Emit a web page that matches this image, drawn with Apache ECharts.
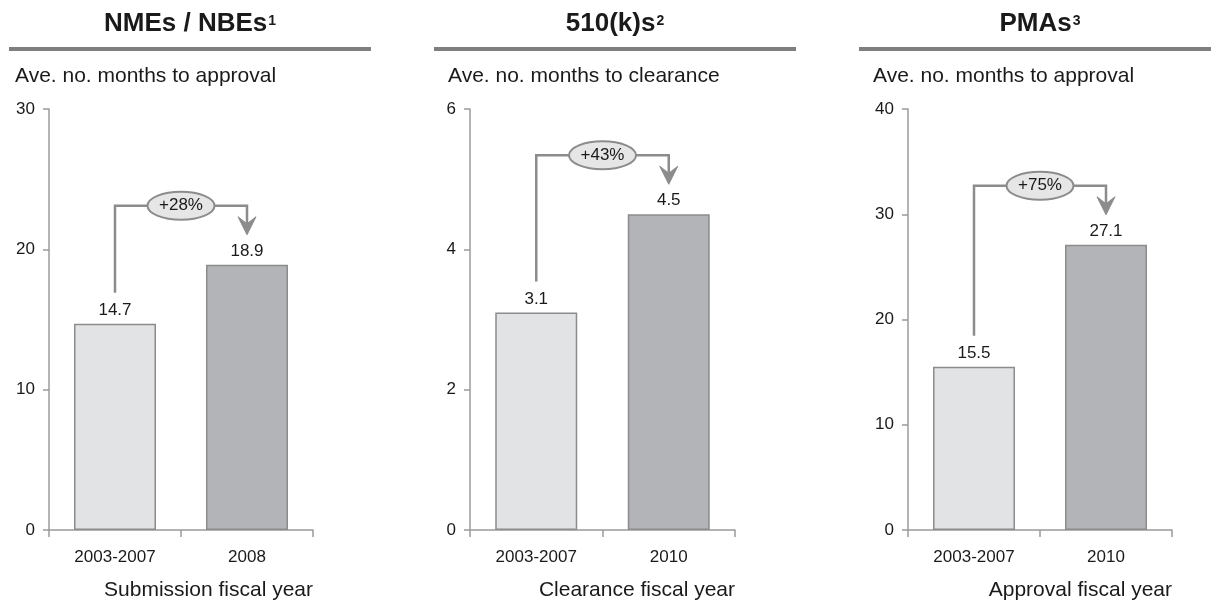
<!DOCTYPE html>
<html>
<head>
<meta charset="utf-8">
<script src="https://cdn.jsdelivr.net/npm/echarts@6/dist/echarts.min.js"></script>
<style>
  html, body { margin: 0; padding: 0; background: #fff; }
  #chart { width: 1211px; height: 601px; }
</style>
</head>
<body>
<div id="chart"></div>
<script>
// Review-time comparison: NMEs/NBEs, 510(k)s and PMAs
const panelTitles = ['NMEs / NBEs', '510(k)s', 'PMAs'];
const titleNotes = ['1', '2', '3'];
const valueTitles = ['Ave. no. months to approval', 'Ave. no. months to clearance', 'Ave. no. months to approval'];
const periodTitles = ['Submission fiscal year', 'Clearance fiscal year', 'Approval fiscal year'];

const nmeCategories = ['2003-2007', '2008'];
const k510Categories = ['2003-2007', '2010'];
const pmaCategories = ['2003-2007', '2010'];

const nmeMonths = [14.7, 18.9];
const k510Months = [3.1, 4.5];
const pmaMonths = [15.5, 27.1];

const changeLabels = ['+28%', '+43%', '+75%'];

const axisMax = [30, 6, 40];
const axisStep = [10, 2, 10];

const categoriesList = [nmeCategories, k510Categories, pmaCategories];
const valuesList = [nmeMonths, k510Months, pmaMonths];

// layout
const FONT = 'Liberation Sans, Arial, sans-serif';
const gridLeft = [49, 470, 908];
const gridWidth = [264, 265, 264];
const gridTop = 109;
const gridBottomY = 531;
const ruleX = [9, 434, 859];
const ruleW = 362;
const subtitleX = [15, 448, 873];

const AXIS = '#9b9b9b';
const LINE = '#8c8c8c';
const TEXT = '#1a1a1a';
const barFills = ['#e2e3e5', '#b3b4b7'];

const chart = echarts.init(document.getElementById('chart'), null, { renderer: 'canvas' });

const grids = [], xAxes = [], yAxes = [], series = [];
for (let i = 0; i < 3; i++) {
  grids.push({ left: gridLeft[i], top: gridTop, width: gridWidth[i], height: gridBottomY - gridTop, containLabel: false });
  xAxes.push({
    type: 'category', gridIndex: i, data: categoriesList[i],
    axisLine: { lineStyle: { color: AXIS, width: 1.5 } },
    axisTick: { show: true, length: 7, lineStyle: { color: AXIS, width: 1.5 }, alignWithLabel: false },
    axisLabel: { color: TEXT, fontSize: 17, fontFamily: FONT, margin: 19 },
    name: periodTitles[i], nameLocation: 'end', nameGap: 0,
    nameTextStyle: { color: TEXT, fontSize: 21, fontFamily: FONT, align: 'right', verticalAlign: 'top', padding: [50, 0, 0, 0] }
  });
  yAxes.push({
    type: 'value', gridIndex: i, min: 0, max: axisMax[i], interval: axisStep[i],
    axisLine: { show: true, lineStyle: { color: AXIS, width: 1.5 } },
    axisTick: { show: true, length: 6, lineStyle: { color: AXIS, width: 1.5 } },
    axisLabel: { color: TEXT, fontSize: 17, fontFamily: FONT, margin: 14 },
    splitLine: { show: false }
  });
  series.push({
    type: 'bar', xAxisIndex: i, yAxisIndex: i, barWidth: 82,
    data: valuesList[i].map((v, j) => ({
      value: v,
      itemStyle: { color: barFills[j], borderColor: LINE, borderWidth: 1.5 }
    })),
    label: { show: true, position: 'top', distance: 5, color: TEXT, fontSize: 17, fontFamily: FONT },
    animation: false
  });
}

chart.setOption({
  animation: false,
  backgroundColor: '#ffffff',
  grid: grids, xAxis: xAxes, yAxis: yAxes, series: series
});

// Panel headings, rules, value-axis captions and change connectors
const graphics = [];
for (let i = 0; i < 3; i++) {
  const cx = ruleX[i] + ruleW / 2;
  graphics.push({
    type: 'text', z: 10,
    style: {
      text: '{t|' + panelTitles[i] + '}{s|' + titleNotes[i] + '}',
      x: cx, y: 24, align: 'center', verticalAlign: 'middle',
      rich: {
        t: { fontSize: 26, fontWeight: 'bold', fontFamily: FONT, fill: TEXT, lineHeight: 30 },
        s: { fontSize: 14, fontWeight: 'bold', fontFamily: FONT, fill: TEXT, verticalAlign: 'top', lineHeight: 30, padding: [5, 0, 0, 1] }
      }
    }
  });
  graphics.push({
    type: 'rect', shape: { x: ruleX[i], y: 47, width: ruleW, height: 4 },
    style: { fill: '#7f7f7f' }
  });
  graphics.push({
    type: 'text', style: {
      text: valueTitles[i], x: subtitleX[i], y: 76, align: 'left', verticalAlign: 'middle',
      fontSize: 21, fontFamily: FONT, fill: TEXT
    }
  });

  const v = valuesList[i];
  const p0 = chart.convertToPixel({ seriesIndex: i }, [0, v[0]]);
  const p1 = chart.convertToPixel({ seriesIndex: i }, [1, v[1]]);
  const yTop = p1[1] - 59;
  const yTip = p1[1] - 30;
  const yStart = p0[1] - 31;
  const mid = (p0[0] + p1[0]) / 2;
  graphics.push({
    type: 'polyline', z: 5,
    shape: { points: [[p0[0], yStart], [p0[0], yTop], [p1[0], yTop], [p1[0], yTip - 10]] },
    style: { stroke: LINE, lineWidth: 2.5, fill: null }
  });
  graphics.push({
    type: 'polygon', z: 6,
    shape: { points: [[p1[0], yTip], [p1[0] - 9, yTip - 18], [p1[0], yTip - 11], [p1[0] + 9, yTip - 18]] },
    style: { fill: LINE, stroke: LINE, lineWidth: 1 }
  });
  graphics.push({
    type: 'ellipse', z: 7,
    shape: { cx: mid, cy: yTop, rx: 33.5, ry: 14 },
    style: { fill: '#e6e6e7', stroke: LINE, lineWidth: 2 }
  });
  graphics.push({
    type: 'text', z: 8,
    style: {
      text: changeLabels[i], x: mid, y: yTop, align: 'center', verticalAlign: 'middle',
      fontSize: 17, fontFamily: FONT, fill: TEXT
    }
  });
}
chart.setOption({ graphic: graphics });
</script>
</body>
</html>
